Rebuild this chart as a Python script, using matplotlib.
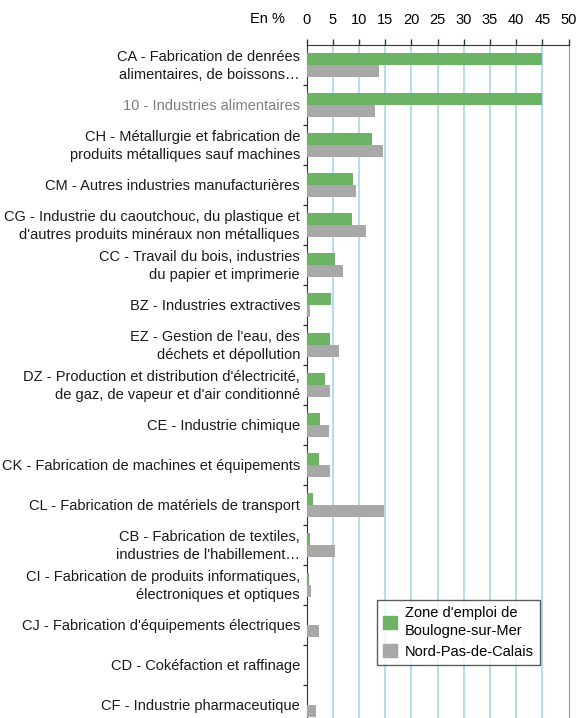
import numpy as np
import matplotlib.pyplot as plt
from matplotlib.patches import Patch

plt.rcParams['font.family'] = ['Liberation Sans', 'DejaVu Sans']

labels = [
    "CA - Fabrication de denrées\nalimentaires, de boissons…",
    "10 - Industries alimentaires",
    "CH - Métallurgie et fabrication de\nproduits métalliques sauf machines",
    "CM - Autres industries manufacturières",
    "CG - Industrie du caoutchouc, du plastique et\nd'autres produits minéraux non métalliques",
    "CC - Travail du bois, industries\ndu papier et imprimerie",
    "BZ - Industries extractives",
    "EZ - Gestion de l'eau, des\ndéchets et dépollution",
    "DZ - Production et distribution d'électricité,\nde gaz, de vapeur et d'air conditionné",
    "CE - Industrie chimique",
    "CK - Fabrication de machines et équipements",
    "CL - Fabrication de matériels de transport",
    "CB - Fabrication de textiles,\nindustries de l'habillement…",
    "CI - Fabrication de produits informatiques,\nélectroniques et optiques",
    "CJ - Fabrication d'équipements électriques",
    "CD - Cokéfaction et raffinage",
    "CF - Industrie pharmaceutique",
]
zone = [45.0, 45.0, 12.5, 8.8, 8.6, 5.4, 4.6, 4.4, 3.5, 2.5, 2.3, 1.2, 0.6, 0.45, 0.0, 0.0, 0.0]
region = [13.8, 13.0, 14.6, 9.4, 11.3, 6.9, 0.6, 6.2, 4.4, 4.3, 4.4, 14.8, 5.4, 0.8, 2.35, 0.0, 1.8]

green = '#6db364'
grey = '#a9a8a9'

fig = plt.figure(figsize=(5.78, 7.18), dpi=100)
# axes: x 306.5..568.5 px, y top at 45 px, running past the bottom edge
ax = fig.add_axes([306.5 / 578, 0, 262 / 578, (718 - 45) / 718])

y = np.arange(len(labels))
h = 0.3
ax.barh(y - h / 2, zone, height=h, color=green, zorder=3)
ax.barh(y + h / 2, region, height=h, color=grey, zorder=3)

ax.set_xlim(0, 50)
ax.set_ylim(16.325, -0.5)
ax.set_xticks(np.arange(0, 51, 5))
ax.xaxis.tick_top()
ax.tick_params(axis='x', length=4, width=1, pad=9, labelsize=10.5, color='#333333')
for x in range(5, 50, 5):
    ax.axvline(x, color='#a6d8ee', lw=1.2, zorder=1)

ax.set_yticks(np.arange(0.5, 16.5, 1))
ax.set_yticklabels([])
ax.tick_params(axis='y', length=3, width=1, color='#333333')
for i, lab in enumerate(labels):
    col = '#7f7f7f' if lab.startswith('10') else '#1a1a1a'
    ax.text(-0.025, i + 0.02, lab, transform=ax.get_yaxis_transform(), ha='right', va='center',
            fontsize=10.5, color=col, linespacing=1.38)

ax.spines['bottom'].set_visible(False)
ax.spines['left'].set_color('#333333')
ax.spines['top'].set_color('#333333')
ax.spines['right'].set_color('#999999')

fig.text(267 / 578, 1 - 19 / 718, 'En %', ha='center', va='center', fontsize=10.5)

handles = [Patch(color=green), Patch(color=grey)]
leg = ax.legend(handles, ["Zone d'emploi de\nBoulogne-sur-Mer", 'Nord-Pas-de-Calais'],
                loc='upper left', bbox_to_anchor=((377 - 306.5) / 262, 1 - (600 - 45) / 673),
                borderaxespad=0, fontsize=10.5, frameon=True, fancybox=False,
                handlelength=1.0, handleheight=1.0, handletextpad=0.5, borderpad=0.4,
                labelspacing=0.45)
for t in leg.get_texts():
    t.set_linespacing(1.35)
leg.get_frame().set_edgecolor('#333333')
leg.get_frame().set_linewidth(1)

fig.savefig('out.png', dpi=100)
